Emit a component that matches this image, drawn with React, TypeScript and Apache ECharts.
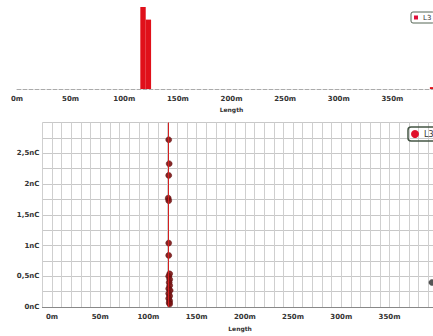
import React, { useEffect, useRef } from "react";
import * as echarts from "echarts";

// Histogram of lengths (bin centre in m, count)
const histBins: number[] = [117.5, 122.5, 387.5];
const histCounts: number[] = [13, 11, 0.3];

// Scatter: length (m) vs charge (nC)
const scatterX: number[] = [121, 121.5, 121, 120.5, 121, 121, 121, 122, 121, 122, 121.5, 122, 121, 122.5, 121, 122, 121, 122, 121.5, 122];
const scatterY: number[] = [2.72, 2.33, 2.14, 1.77, 1.73, 1.04, 0.84, 0.54, 0.5, 0.45, 0.4, 0.35, 0.3, 0.27, 0.22, 0.18, 0.14, 0.1, 0.07, 0.05];
const edgePoint: number[] = [394, 0.4];
const lineX = 121;

const xTickStep = 50;
const xLabelMax = 350;
const yLabels: Record<string, string> = { "0": "0nC", "0.5": "0,5nC", "1": "1nC", "1.5": "1,5nC", "2": "2nC", "2.5": "2,5nC" };

const labelFont = { fontSize: 7, fontWeight: "bold" as const, color: "#333", fontFamily: "DejaVu Sans" };

export default function App() {
  const ref = useRef<HTMLDivElement>(null);
  useEffect(() => {
    if (!ref.current) return;
    const chart = echarts.init(ref.current, undefined, { renderer: "svg" });
    const xFmt = (v: number) => (v >= 0 && v <= xLabelMax && v % xTickStep === 0 ? v + "m" : "");
    chart.setOption({
      animation: false,
      backgroundColor: "#fff",
      legend: [
        {
          left: 411, top: 12, orient: "vertical",
          borderColor: "#556655", borderWidth: 1, borderRadius: 2, padding: [2, 3],
          itemWidth: 4, itemHeight: 4, itemGap: 2,
          textStyle: { ...labelFont, fontWeight: "normal", fontSize: 7 },
          data: [{ name: "L3", icon: "rect", itemStyle: { color: "#e0103a" } }],
        },
        {
          left: 408, top: 127, orient: "vertical",
          borderColor: "#445544", borderWidth: 1.5, borderRadius: 3, padding: [3, 3],
          itemWidth: 8, itemHeight: 8, itemGap: 2,
          textStyle: { ...labelFont, fontWeight: "normal", fontSize: 8 },
          data: [{ name: "L3", icon: "circle", itemStyle: { color: "#e0102a" } }],
        },
      ],
      grid: [
        { left: 17, top: 7, width: 429, height: 82 },
        { left: 42.4, top: 122.5, width: 395.3, height: 190.2 },
      ],
      xAxis: [
        {
          gridIndex: 0, type: "value", min: 0, max: 400, interval: 50,
          name: "Length", nameLocation: "middle", nameGap: 17,
          nameTextStyle: { ...labelFont, fontSize: 6 },
          axisLine: { show: true, lineStyle: { color: "#aaa", type: "dashed", width: 1 } },
          axisTick: { show: false },
          axisLabel: { ...labelFont, margin: 6, formatter: xFmt },
          splitLine: { show: false },
        },
        {
          gridIndex: 1, type: "value", min: -10, max: 400, interval: 10,
          name: "Length", nameLocation: "middle", nameGap: 16,
          nameTextStyle: { ...labelFont, fontSize: 6 },
          axisLine: { show: true, lineStyle: { color: "#888", width: 1 } },
          axisTick: { show: false },
          axisLabel: { ...labelFont, margin: 6, formatter: xFmt },
          splitLine: { show: true, lineStyle: { color: "#cfcfcf", width: 1 } },
        },
      ],
      yAxis: [
        {
          gridIndex: 0, type: "value", min: 0, max: 13,
          axisLine: { show: false }, axisTick: { show: false }, axisLabel: { show: false },
          splitLine: { show: false },
        },
        {
          gridIndex: 1, type: "value", min: 0, max: 3, interval: 0.25,
          axisLine: { show: false }, axisTick: { show: false },
          axisLabel: {
            ...labelFont, margin: 3,
            formatter: (v: number) => yLabels[String(v)] ?? "",
          },
          splitLine: { show: true, lineStyle: { color: "#c8c8c8", width: 1 } },
        },
      ],
      series: [
        {
          name: "L3", type: "bar", xAxisIndex: 0, yAxisIndex: 0,
          barWidth: 5.4,
          itemStyle: { color: "#e0101a" },
          data: histBins.map((b, i) => [b, histCounts[i]]),
        },
        {
          name: "L3", type: "scatter", xAxisIndex: 1, yAxisIndex: 1,
          symbolSize: 6,
          itemStyle: { color: "#7a1212", borderColor: "#5a0a0a", borderWidth: 0.5, opacity: 0.9 },
          data: [
            ...scatterX.map((x, i) => [x, scatterY[i]]),
            { value: edgePoint, itemStyle: { color: "#444", borderColor: "#333" } },
          ],
          markLine: {
            silent: true, symbol: "none", label: { show: false },
            lineStyle: { color: "#d42020", width: 1, type: "solid" },
            data: [{ xAxis: lineX }],
          },
          z: 3,
        },
      ],
    });
    return () => chart.dispose();
  }, []);
  return (
    <div style={{ position: "fixed", left: 0, top: 0, width: 433, height: 336, overflow: "hidden", background: "#fff" }}>
      <div ref={ref} style={{ width: 460, height: 336 }} />
    </div>
  );
}
